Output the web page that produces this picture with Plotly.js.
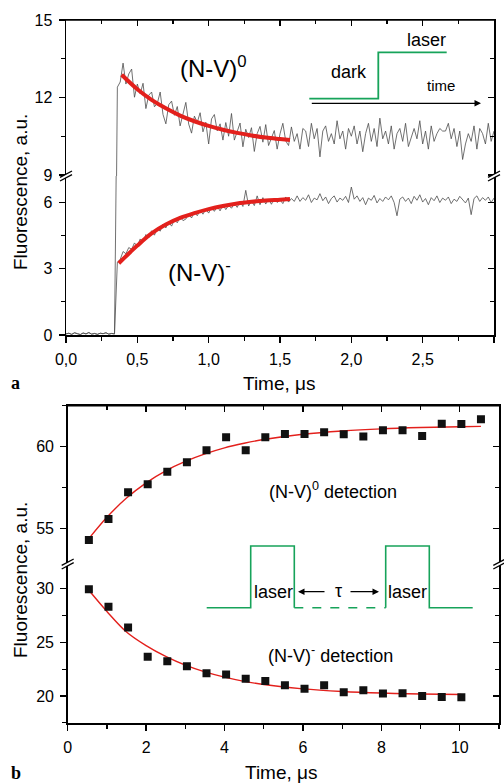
<!DOCTYPE html>
<html><head><meta charset="utf-8">
<script src="https://cdn.plot.ly/plotly-3.0.1.min.js"></script>
<style>html,body{margin:0;padding:0;background:#fff}#chart{width:504px;height:784px}</style>
</head><body><div id="chart"></div>
<script>
// ---------- Panel a: time-resolved fluorescence traces ----------
const timeA = [0,0.02,0.04,0.06,0.08,0.1,0.12,0.14,0.16,0.18,0.2,0.22,0.24,0.26,0.28,0.3,0.32,0.34,0.36,0.38,0.4,0.42,0.44,0.46,0.48,0.5,0.52,0.54,0.56,0.58,0.6,0.62,0.64,0.66,0.68,0.7,0.72,0.74,0.76,0.78,0.8,0.82,0.84,0.86,0.88,0.9,0.92,0.94,0.96,0.98,1,1.02,1.04,1.06,1.08,1.1,1.12,1.14,1.16,1.18,1.2,1.22,1.24,1.26,1.28,1.3,1.32,1.34,1.36,1.38,1.4,1.42,1.44,1.46,1.48,1.5,1.52,1.54,1.56,1.58,1.6,1.62,1.64,1.66,1.68,1.7,1.72,1.74,1.76,1.78,1.8,1.82,1.84,1.86,1.88,1.9,1.92,1.94,1.96,1.98,2,2.02,2.04,2.06,2.08,2.1,2.12,2.14,2.16,2.18,2.2,2.22,2.24,2.26,2.28,2.3,2.32,2.34,2.36,2.38,2.4,2.42,2.44,2.46,2.48,2.5,2.52,2.54,2.56,2.58,2.6,2.62,2.64,2.66,2.68,2.7,2.72,2.74,2.76,2.78,2.8,2.82,2.84,2.86,2.88,2.9,2.92,2.94,2.96,2.98,3];
const darkBaseline = [0.05,0.08,0.03,0.10,0.06,0.02,0.09,0.05,0.11,0.04,0.07,0.03,0.08,0.06,0.10,0.04,0.07,0.05];
const nv0Signal = [12.4,12.6,13.33,12.52,12.91,13.1,12.01,12.52,12.14,12.55,11.57,12.09,12.21,11.64,11.77,12.21,11.34,10.98,11.72,11.86,11.31,11.65,10.9,11.36,11.81,10.97,10.62,11.28,11.04,11.41,10.67,11.04,10.2,11.17,11.34,10.71,10.98,10.35,11.03,10.5,11.38,10.35,10.73,11.01,10.09,10.77,10.45,10.83,9.91,10.6,10.88,10.27,10.95,10.14,10.43,10.72,10.0,10.59,11.0,10.32,10.14,10.86,10.3,10.6,10.0,10.8,10.7,10.1,11.0,10.4,10.8,9.7,10.7,10.9,10.3,10.6,10.2,11.1,10.4,10.7,10.0,10.8,10.5,10.9,10.2,10.7,9.9,10.6,11.0,10.3,10.8,10.1,11.2,10.4,10.7,10.2,10.9,10.0,10.6,10.8,10.3,11.0,10.1,10.5,10.8,10.4,11.1,10.2,10.7,10.0,10.9,10.3,10.6,10.8,10.7,10.7,11.0,10.4,10.8,10.1,10.7,9.6,10.2,10.6,10.3,10.9,10.0,10.8,10.6,10.2,11.0,10.3,10.7];
const nvmSignal = [3.3,3.42,3.78,3.68,3.96,3.88,4.17,4.02,4.35,4.22,4.55,4.41,4.72,4.52,4.84,4.70,5.02,4.85,5.12,4.93,5.22,5.08,5.35,5.18,5.25,5.48,5.30,5.58,5.40,5.64,5.47,5.70,5.52,5.78,5.60,5.82,5.62,5.90,5.68,5.87,5.74,5.96,5.78,6.05,5.82,6.55,5.84,6.08,5.86,6.30,5.90,6.22,5.93,6.15,5.92,6.20,6.00,6.12,5.95,6.25,6.02,6.18,6.05,6.30,6.05,6.22,6.10,6.35,6.00,6.20,6.12,6.40,6.08,6.25,5.95,6.18,6.30,6.02,6.20,6.10,6.28,6.00,6.70,6.15,6.30,6.05,6.22,5.90,6.20,6.10,6.32,5.98,6.18,6.05,6.25,6.12,6.30,6.00,5.40,6.15,6.25,6.05,6.20,5.95,6.28,6.10,6.35,6.02,6.18,5.90,6.22,6.08,6.30,6.00,6.20,6.10,6.25,5.95,6.15,6.05,6.28,6.12,5.98,6.20,5.45,6.18,6.30,6.05,6.22,6.10,6.25,6.00,6.20];
const nv0A = darkBaseline.concat(nv0Signal);
const nvmA = darkBaseline.concat(nvmSignal);
const fitA0t = [0.39,0.5,0.6,0.7,0.8,0.9,1.0,1.1,1.2,1.3,1.4,1.5,1.57];
const fitA0y = [12.88,12.32,11.91,11.58,11.30,11.08,10.90,10.75,10.63,10.53,10.45,10.39,10.35];
const fitAmt = [0.37,0.45,0.5,0.6,0.7,0.8,0.9,1.0,1.1,1.2,1.3,1.4,1.5,1.57];
const fitAmy = [3.25,3.75,4.05,4.6,5.0,5.3,5.52,5.7,5.84,5.95,6.03,6.09,6.13,6.16];
const xTicksA = [0,0.5,1,1.5,2,2.5,3];
const xLabelsA = ['0,0','0,5','1,0','1,5','2,0','2,5','3,0'];

// ---------- Panel b: pump-probe delay dependence ----------
const tauB0 = [0.54,1.04,1.54,2.04,2.54,3.04,3.54,4.04,4.54,5.04,5.54,6.04,6.54,7.04,7.54,8.04,8.54,9.04,9.54,10.04,10.54];
const nv0B = [54.31,55.59,57.22,57.71,58.48,59.05,59.78,60.57,59.78,60.57,60.77,60.77,60.88,60.76,60.63,61.0,61.0,60.65,61.4,61.38,61.67];
const tauBm = [0.54,1.04,1.54,2.04,2.54,3.04,3.54,4.04,4.54,5.04,5.54,6.04,6.54,7.04,7.54,8.04,8.54,9.04,9.54,10.04];
const nvmB = [29.94,28.32,26.37,23.66,23.23,22.77,22.12,21.99,21.61,21.4,21.0,20.68,21.0,20.34,20.53,20.22,20.25,20.0,19.91,19.88];
const fitB0t = [0.54,1.0,1.5,2.0,2.5,3.0,3.5,4.0,4.5,5.0,6.0,7.0,8.0,9.0,10.0,10.54];
const fitB0y = [54.4,55.7,56.87,57.8,58.53,59.1,59.56,59.93,60.21,60.44,60.76,60.96,61.09,61.17,61.22,61.24];
const fitBmt = [0.54,1.0,1.5,2.0,2.5,3.0,3.5,4.0,4.5,5.0,6.0,7.0,8.0,9.0,10.04];
const fitBmy = [29.85,27.88,25.97,24.7,23.69,22.87,22.24,21.75,21.36,21.07,20.66,20.42,20.27,20.18,20.13];

// ---------- layout helpers ----------
const F = 'Liberation Sans, Arial, sans-serif';
const X = px => (px - 66) / 433;
const Y = py => (723 - py) / 703;
const P = pts => pts.map((p, i) => (i ? 'L' : 'M') + X(p[0]).toFixed(5) + ',' + Y(p[1]).toFixed(5)).join(' ');

const GRAY = '#4d4d4d', RED = '#e3201c', GREEN = '#17a35a';

const traces = [
  {x: timeA, y: nv0A, xaxis: 'x', yaxis: 'y', mode: 'lines', line: {color: GRAY, width: 0.8}},
  {x: timeA, y: nv0A, xaxis: 'x2', yaxis: 'y2', mode: 'lines', line: {color: GRAY, width: 0.8}},
  {x: timeA, y: nvmA, xaxis: 'x', yaxis: 'y', mode: 'lines', line: {color: GRAY, width: 0.8}},
  {x: fitA0t, y: fitA0y, xaxis: 'x2', yaxis: 'y2', mode: 'lines', line: {color: RED, width: 4, shape: 'spline'}},
  {x: fitAmt, y: fitAmy, xaxis: 'x', yaxis: 'y', mode: 'lines', line: {color: RED, width: 4, shape: 'spline'}},
  {x: fitB0t, y: fitB0y, xaxis: 'x4', yaxis: 'y4', mode: 'lines', line: {color: RED, width: 1.4, shape: 'spline'}},
  {x: fitBmt, y: fitBmy, xaxis: 'x3', yaxis: 'y3', mode: 'lines', line: {color: RED, width: 1.4, shape: 'spline'}},
  {x: tauB0, y: nv0B, xaxis: 'x4', yaxis: 'y4', mode: 'markers', marker: {symbol: 'square', size: 8, color: '#111'}},
  {x: tauBm, y: nvmB, xaxis: 'x3', yaxis: 'y3', mode: 'markers', marker: {symbol: 'square', size: 8, color: '#111'}},
  // empty carriers so the right-hand tick axes are drawn
  {x: [], y: [], xaxis: 'x', yaxis: 'y5', mode: 'lines', hoverinfo: 'skip'},
  {x: [], y: [], xaxis: 'x2', yaxis: 'y6', mode: 'lines', hoverinfo: 'skip'},
  {x: [], y: [], xaxis: 'x3', yaxis: 'y7', mode: 'lines', hoverinfo: 'skip'},
  {x: [], y: [], xaxis: 'x4', yaxis: 'y8', mode: 'lines', hoverinfo: 'skip'}
];

const base = {showline: true, linecolor: '#000', linewidth: 1.5, showgrid: false, zeroline: false,
  ticks: 'outside', ticklen: 6, tickwidth: 1.3, tickcolor: '#000', ticklabelstandoff: 3,
  tickfont: {family: F, size: 16, color: '#000'}, fixedrange: true};
const mnr = (dt, t0, dir) => ({dtick: dt, tick0: t0, ticks: dir, ticklen: 4, tickwidth: 1.2, tickcolor: '#000', showgrid: false});
const noLab = {showticklabels: false};

const dxA = [0, X(494)], dxB = [X(67.7), 1];
const dyAl = [Y(335), Y(176)], dyAu = [Y(176), 1];
const dyBl = [0, Y(564)], dyBu = [Y(564), Y(405.7)];

const layout = {
  width: 504, height: 784, margin: {l: 66, r: 5, t: 20, b: 61}, showlegend: false,
  paper_bgcolor: '#fff', plot_bgcolor: 'rgba(0,0,0,0)', font: {family: F, color: '#000'},
  xaxis: Object.assign({}, base, {domain: dxA, anchor: 'y', range: [0, 3], tickmode: 'array', tickvals: xTicksA, ticktext: xLabelsA, minor: mnr(0.25, 0, 'outside')}),
  yaxis: Object.assign({}, base, {domain: dyAl, anchor: 'x', mirror: true, range: [0, 7.2], tick0: 0, dtick: 3, minor: mnr(1.5, 0, 'outside')}),
  xaxis2: Object.assign({}, base, noLab, {domain: dxA, anchor: 'y2', side: 'top', range: [0, 3], ticks: 'inside', tick0: 0, dtick: 0.5, minor: mnr(0.25, 0, 'inside')}),
  yaxis2: Object.assign({}, base, {domain: dyAu, anchor: 'x2', mirror: true, range: [8.96, 15], tick0: 9, dtick: 3, minor: mnr(1.5, 0, 'outside')}),
  xaxis3: Object.assign({}, base, {domain: dxB, anchor: 'y3', range: [0, 11], tick0: 0, dtick: 2, minor: mnr(1, 0, 'outside')}),
  yaxis3: Object.assign({}, base, {domain: dyBl, anchor: 'x3', mirror: true, range: [17.48, 32.3], tick0: 20, dtick: 5, minor: mnr(2.5, 0, 'outside')}),
  xaxis4: Object.assign({}, base, noLab, {domain: dxB, anchor: 'y4', side: 'top', range: [0, 11], ticks: 'inside', tick0: 0, dtick: 2, minor: mnr(1, 0, 'inside')}),
  yaxis4: Object.assign({}, base, {domain: dyBu, anchor: 'x4', mirror: true, range: [52.85, 62.5], tick0: 50, dtick: 5, minor: mnr(2.5, 0, 'outside')}),
  yaxis5: Object.assign({}, base, noLab, {showline: false, overlaying: 'y', anchor: 'x', side: 'right', range: [0, 7.2], ticks: 'inside', tick0: 0, dtick: 3, minor: mnr(1.5, 0, 'inside')}),
  yaxis6: Object.assign({}, base, noLab, {showline: false, overlaying: 'y2', anchor: 'x2', side: 'right', range: [8.96, 15], ticks: 'inside', tick0: 9, dtick: 3, minor: mnr(1.5, 0, 'inside')}),
  yaxis7: Object.assign({}, base, noLab, {showline: false, overlaying: 'y3', anchor: 'x3', side: 'right', range: [17.48, 32.3], ticks: 'inside', tick0: 20, dtick: 5, minor: mnr(2.5, 0, 'inside')}),
  yaxis8: Object.assign({}, base, noLab, {showline: false, overlaying: 'y4', anchor: 'x4', side: 'right', range: [52.85, 62.5], ticks: 'inside', tick0: 50, dtick: 5, minor: mnr(2.5, 0, 'inside')}),
  shapes: [],
  annotations: []
};

// top frame lines (drawn as shapes so they are always present)
layout.shapes.push(
  {type: 'line', xref: 'paper', yref: 'paper', x0: X(66), x1: X(494), y0: Y(20), y1: Y(20), line: {color: '#000', width: 1.5}},
  {type: 'line', xref: 'paper', yref: 'paper', x0: X(67.7), x1: X(499.3), y0: Y(405.7), y1: Y(405.7), line: {color: '#000', width: 1.5}}
);

// axis-break marks
function brk(cx, cy) {
  const w = 6, h = 3.2, d = 1.8;
  return [
    {type: 'path', xref: 'paper', yref: 'paper', path: P([[cx - w, cy + h - d], [cx + w, cy - h - d], [cx + w, cy - h + d], [cx - w, cy + h + d]]) + ' Z', fillcolor: '#fff', line: {width: 0}},
    {type: 'line', xref: 'paper', yref: 'paper', x0: X(cx - w), y0: Y(cy + h - d), x1: X(cx + w), y1: Y(cy - h - d), line: {color: '#000', width: 1.3}},
    {type: 'line', xref: 'paper', yref: 'paper', x0: X(cx - w), y0: Y(cy + h + d), x1: X(cx + w), y1: Y(cy - h + d), line: {color: '#000', width: 1.3}}
  ];
}
layout.shapes.push(...brk(66, 176), ...brk(494, 176), ...brk(67.7, 564), ...brk(499.3, 564));

// inset schematics
layout.shapes.push(
  {type: 'path', xref: 'paper', yref: 'paper', path: P([[309.3, 98.7], [378.3, 98.7], [378.3, 52.3], [446.7, 52.3]]), line: {color: GREEN, width: 1.8}},
  {type: 'path', xref: 'paper', yref: 'paper', path: P([[206.7, 607.7], [250.7, 607.7], [250.7, 546], [294.3, 546], [294.3, 607.7]]), line: {color: GREEN, width: 1.6}},
  {type: 'path', xref: 'paper', yref: 'paper', path: P([[294.3, 607.7], [385.7, 607.7]]), line: {color: GREEN, width: 1.6, dash: 'dash'}},
  {type: 'path', xref: 'paper', yref: 'paper', path: P([[385.7, 607.7], [385.7, 546], [429.3, 546], [429.3, 607.7], [472.7, 607.7]]), line: {color: GREEN, width: 1.6}}
);

function txt(text, px, py, size, xanchor, extra) {
  return Object.assign({text: text, xref: 'paper', yref: 'paper', x: X(px), y: Y(py), xanchor: xanchor || 'center', yanchor: 'middle',
    showarrow: false, font: {family: F, size: size, color: '#000'}}, extra || {});
}
function arrow(hx, hy, ax) {
  return {text: ' ', xref: 'paper', yref: 'paper', x: X(hx), y: Y(hy), ax: ax, ay: 0, showarrow: true,
    arrowhead: 2, arrowsize: 1, arrowwidth: 1.3, arrowcolor: '#000', standoff: 0, font: {size: 6}};
}
const serif = {family: 'Liberation Serif, DejaVu Serif, serif', size: 18, color: '#000'};
layout.annotations.push(
  txt('(N-V)<sup>0</sup>', 178, 67, 24, 'left'),
  txt('(N-V)<sup>-</sup>', 166, 271, 24, 'left'),
  txt('dark', 349.2, 72, 18),
  txt('laser', 426.7, 40, 18),
  txt('time', 441.3, 86, 15),
  arrow(481, 103.3, -171.7),
  txt('Time, \u03bcs', 279, 383, 19),
  txt('Fluorescence, a.u.', 20, 192, 19, 'center', {textangle: -90}),
  txt('<b>a</b>', 15.5, 382.5, 18, 'center', {font: serif}),
  txt('(N-V)<sup>0</sup> detection', 266.7, 490, 18, 'left'),
  txt('(N-V)<sup>-</sup> detection', 266, 654, 18, 'left'),
  txt('laser', 273, 591.7, 18),
  txt('laser', 407.7, 591.7, 18),
  txt('\u03c4', 338.3, 591, 18),
  arrow(298, 591.7, 29),
  arrow(379, 591.7, -31),
  txt('Time, \u03bcs', 281, 772, 19),
  txt('Fluorescence, a.u.', 20, 580, 19, 'center', {textangle: -90}),
  txt('<b>b</b>', 16, 773, 18, 'center', {font: serif})
);

Plotly.newPlot('chart', traces, layout, {staticPlot: true, displayModeBar: false});
</script></body></html>
